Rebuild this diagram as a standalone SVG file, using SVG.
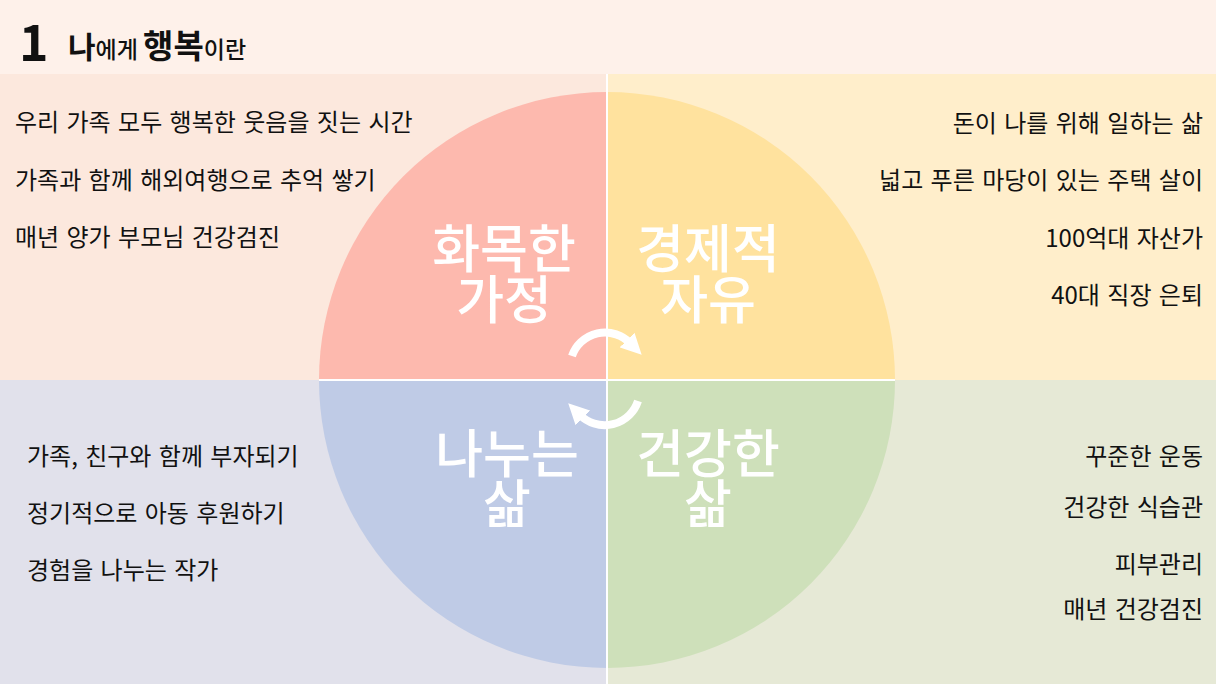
<svg xmlns="http://www.w3.org/2000/svg" width="1216" height="684" viewBox="0 0 1216 684">
<defs>
<style>
.t{font-family:"Malgun Gothic","Noto Sans CJK KR","Noto Sans",sans-serif;font-size:24px;word-spacing:2px;fill:#111}
.r{text-anchor:end}
.big{font-family:"Noto Sans CJK KR",sans-serif;font-size:52px;font-weight:500;fill:#fff;text-anchor:middle}
.arc{fill:none;stroke:#fff;stroke-width:8}
</style>
<marker id="ah" viewBox="0 0 10 10" refX="2" refY="5" markerWidth="2.6" markerHeight="2.6" orient="auto" markerUnits="strokeWidth">
<path d="M0,0 L10,5 L0,10 Z" fill="#fff"/>
</marker>
</defs>
<rect x="0" y="0" width="1216" height="684" fill="#fef1ea"/>
<rect x="0" y="74" width="607" height="306" fill="#fce8dd"/>
<rect x="607" y="74" width="609" height="306" fill="#ffeecb"/>
<rect x="0" y="380" width="607" height="304" fill="#e1e1eb"/>
<rect x="607" y="380" width="609" height="304" fill="#e6e9d6"/>
<g id="circle">
<path d="M607,380 L319,380 A288,288 0 0 1 607,92 Z" fill="#fdb9ae"/>
<path d="M607,380 L607,92 A288,288 0 0 1 895,380 Z" fill="#ffe29e"/>
<path d="M607,380 L319,380 A288,288 0 0 0 607,668 Z" fill="#bfcbe6"/>
<path d="M607,380 L607,668 A288,288 0 0 0 895,380 Z" fill="#cee0ba"/>
</g>
<g id="dividers" stroke="#fff" stroke-width="2">
<line x1="607" y1="74" x2="607" y2="684"/>
<line x1="319" y1="380" x2="895" y2="380"/>
</g>
<g id="title" font-family="Noto Sans CJK KR,sans-serif" fill="#111">
<text x="19" y="61" font-size="50" font-weight="700">1</text>
<text x="68" y="58" font-weight="700"><tspan font-size="30">나</tspan><tspan font-size="23" font-weight="500">에게 </tspan><tspan font-size="33">행복</tspan><tspan font-size="23" font-weight="500">이란</tspan></text>
</g>
<g id="node-family">
<text class="big" x="504" y="268">화목한</text>
<text class="big" x="504" y="319">가정</text>
<text class="t" x="15" y="131">우리 가족 모두 행복한 웃음을 짓는 시간</text>
<text class="t" x="15" y="189">가족과 함께 해외여행으로 추억 쌓기</text>
<text class="t" x="15" y="246">매년 양가 부모님 건강검진</text>
</g>
<g id="node-freedom">
<text class="big" x="708" y="268">경제적</text>
<text class="big" x="708" y="319">자유</text>
<text class="t r" x="1203" y="132">돈이 나를 위해 일하는 삶</text>
<text class="t r" x="1203" y="189">넓고 푸른 마당이 있는 주택 살이</text>
<text class="t r" x="1203" y="247">100억대 자산가</text>
<text class="t r" x="1203" y="304">40대 직장 은퇴</text>
</g>
<g id="node-sharing">
<text class="big" x="507" y="473">나누는</text>
<text class="big" x="507" y="523" font-weight="700">삶</text>
<text class="t" x="27" y="465">가족, 친구와 함께 부자되기</text>
<text class="t" x="27" y="522">정기적으로 아동 후원하기</text>
<text class="t" x="27" y="579">경험을 나누는 작가</text>
</g>
<g id="node-health">
<text class="big" x="708" y="473">건강한</text>
<text class="big" x="708" y="523" font-weight="700">삶</text>
<text class="t r" x="1203" y="465">꾸준한 운동</text>
<text class="t r" x="1203" y="516">건강한 식습관</text>
<text class="t r" x="1203" y="573">피부관리</text>
<text class="t r" x="1203" y="618">매년 건강검진</text>
</g>
<g id="connectors">
<path class="arc" d="M572,356 A35,35 0 0 1 630,343" marker-end="url(#ah)"/>
<path class="arc" d="M638,401 A35,35 0 0 1 580,415" marker-end="url(#ah)"/>
</g>
</svg>
